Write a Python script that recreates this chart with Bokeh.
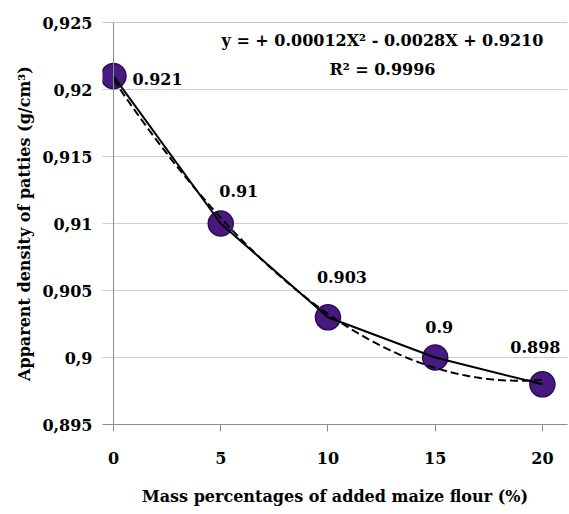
import numpy as np
from bokeh.plotting import figure
from bokeh.models import FixedTicker, Span, Label, ColumnDataSource, Range1d
from bokeh.core.properties import value
from bokeh.embed import file_html
from bokeh.resources import INLINE

# ---- data ----
maize_pct = [0, 5, 10, 15, 20]
density = [0.921, 0.910, 0.903, 0.900, 0.898]
point_labels = ["0.921", "0.91", "0.903", "0.9", "0.898"]
y_ticks = [0.895, 0.900, 0.905, 0.910, 0.915, 0.920, 0.925]
y_tick_labels = ["0,895", "0,9", "0,905", "0,91", "0,915", "0,92", "0,925"]
x_ticks = [0, 5, 10, 15, 20]
equation_text = "y = + 0.00012X\u00b2 - 0.0028X + 0.9210"
r2_text = "R\u00b2 = 0.9996"

# label offsets (layout only)
lbl_dx = [44, 18, 14, 4, -7]
lbl_dy = [3, -33, -40, -31, -37]

FONT = "DejaVu Serif"
FS = "16px"
AX_GRAY = "#8c8c8c"

p = figure(width=569, height=514, output_backend="svg", toolbar_location=None,
           x_range=Range1d(-0.513, 21.17), y_range=Range1d(0.895, 0.925),
           min_border_left=102, min_border_right=2, min_border_top=22, min_border_bottom=90)
p.outline_line_color = None
p.background_fill_color = "white"

# axes
p.xaxis.ticker = FixedTicker(ticks=x_ticks)
p.yaxis.ticker = FixedTicker(ticks=y_ticks)
p.yaxis.major_label_overrides = {t: l for t, l in zip(y_ticks, y_tick_labels)}
for ax in (p.xaxis[0], p.yaxis[0]):
    ax.major_label_text_font = FONT
    ax.major_label_text_font_style = "bold"
    ax.major_label_text_font_size = FS
    ax.major_label_text_color = "black"
    ax.axis_label_text_font = FONT
    ax.axis_label_text_font_style = "bold"
    ax.axis_label_text_font_size = FS
    ax.axis_label_text_color = "black"
    ax.minor_tick_line_color = None

p.xaxis.axis_label = "Mass percentages of added maize flour (%)"
p.yaxis.axis_label = "Apparent density of patties (g/cm\u00b3)"
p.xaxis.axis_line_color = AX_GRAY
p.xaxis.major_tick_line_color = AX_GRAY
p.xaxis.major_tick_out = 7
p.xaxis.major_tick_in = 0
p.xaxis.major_label_standoff = 20
p.xaxis.axis_label_standoff = 20
p.yaxis.axis_line_color = None
p.yaxis.major_tick_line_color = None
p.yaxis.major_tick_out = 0
p.yaxis.major_tick_in = 0
p.yaxis.major_label_standoff = 10
p.yaxis.axis_label_standoff = 5

p.xgrid.grid_line_color = None
p.ygrid.grid_line_color = "#9a9a9a"
p.ygrid.grid_line_dash = "1 1"
p.ygrid.grid_line_width = 1

# top solid line and y axis line at x = 0
p.add_layout(Span(location=0.925, dimension="width", line_color=AX_GRAY, line_width=1))
p.add_layout(Span(location=0, dimension="height", line_color=AX_GRAY, line_width=1))

src = ColumnDataSource(dict(x=maize_pct, y=density, lbl=point_labels, dx=lbl_dx, dy=lbl_dy))

# markers
p.scatter("x", "y", source=src, size=25, fill_color="#48197e", line_color="#2e0b58", line_width=1.5)

# polynomial trendline (2nd order fit of the data)
coef = np.polyfit(maize_pct, density, 2)
xs = np.linspace(min(maize_pct), max(maize_pct), 200)
p.line(xs, np.polyval(coef, xs), line_color="black", line_width=2, line_dash="8 4")

# data line
p.line("x", "y", source=src, line_color="black", line_width=2)

# data labels
p.text("x", "y", text="lbl", source=src, x_offset="dx", y_offset="dy",
       text_font=value(FONT), text_font_style="bold", text_font_size=FS,
       text_align="center", text_baseline="middle", text_color="black")

# equation
p.add_layout(Label(x=12.54, y=0.92366, text=equation_text, text_font=FONT, text_font_style="bold",
                   text_font_size=FS, text_align="center", text_baseline="middle", text_color="black"))
p.add_layout(Label(x=12.54, y=0.92149, text=r2_text, text_font=FONT, text_font_style="bold",
                   text_font_size=FS, text_align="center", text_baseline="middle", text_color="black"))

open("out.html", "w").write(file_html(p, INLINE))
